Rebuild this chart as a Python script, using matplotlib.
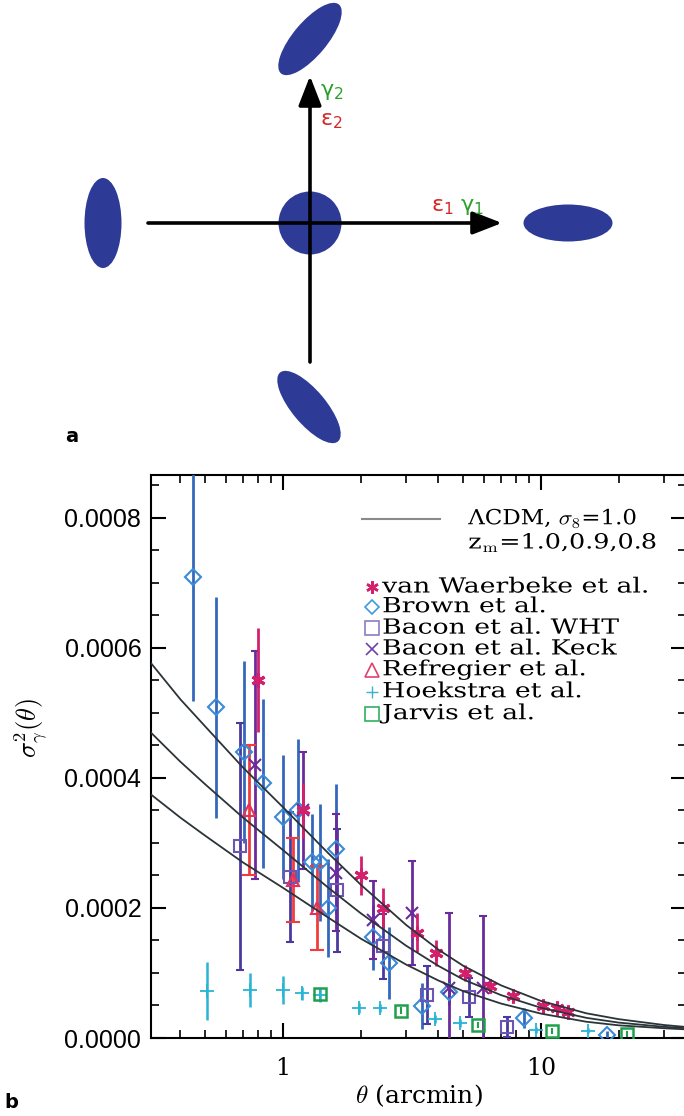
import numpy as np
import matplotlib.pyplot as plt
from matplotlib.patches import Ellipse
from matplotlib.ticker import MultipleLocator, NullFormatter, FixedLocator
from matplotlib.transforms import Affine2D
import matplotlib.patheffects as pe

plt.rcParams['mathtext.fontset'] = 'cm'

# ---- panel a: shear diagram (pixel layout) ----
blob_xy = [(310, 39), (103, 223), (310, 223), (568, 223), (309, 407)]
blob_w = [90, 37, 63, 89, 90]
blob_h = [34, 90, 63, 37, 34]
blob_ang = [-50, 0, 0, 0, 50]

# ---- panel b: shear variance vs angle (values in 1e-4) ----
model_theta = [0.3, 0.4, 0.5, 0.7, 1, 1.5, 2, 3, 4, 5, 7, 10, 15, 20, 30, 40]
model_zm10 = [5.82, 5.21, 4.79, 4.16, 3.55, 2.84, 2.36, 1.74, 1.36, 1.11, 0.81, 0.57, 0.38, 0.29, 0.20, 0.155]
model_zm09 = [4.74, 4.25, 3.90, 3.39, 2.89, 2.31, 1.92, 1.42, 1.11, 0.90, 0.66, 0.465, 0.31, 0.237, 0.172, 0.14]
model_zm08 = [3.78, 3.39, 3.11, 2.70, 2.31, 1.85, 1.53, 1.13, 0.885, 0.72, 0.53, 0.375, 0.25, 0.195, 0.15, 0.125]

vw_theta = [0.80, 1.20, 2.0, 2.44, 3.3, 3.92, 5.07, 6.35, 7.8, 10.2, 11.5, 12.7]
vw_var = [5.5, 3.5, 2.5, 2.0, 1.62, 1.31, 1.0, 0.8, 0.65, 0.49, 0.46, 0.40]
vw_err = [0.8, 0.43, 0.3, 0.3, 0.3, 0.2, 0.12, 0.1, 0.08, 0.06, 0.05, 0.05]

brown_theta = [0.448, 0.55, 0.706, 0.84, 1.0, 1.14, 1.30, 1.39, 1.49, 1.60, 2.23, 2.57, 3.45, 4.4, 8.6, 18.0]
brown_var = [7.09, 5.09, 4.40, 3.92, 3.40, 3.50, 2.70, 2.70, 2.00, 2.90, 1.55, 1.15, 0.49, 0.70, 0.31, 0.05]
brown_err = [1.9, 1.7, 1.4, 1.3, 0.95, 1.1, 0.75, 0.9, 0.75, 1.0, 0.5, 0.55, 0.35, 0.2, 0.15, 0.05]

wht_theta = [0.68, 1.06, 1.62, 2.44, 3.6, 5.26, 7.4]
wht_var = [2.95, 2.47, 2.27, 1.41, 0.66, 0.63, 0.17]
wht_err = [1.9, 1.0, 0.95, 0.5, 0.45, 0.3, 0.15]

keck_theta = [0.78, 1.2, 1.6, 2.23, 3.16, 4.4, 5.95]
keck_var = [4.2, 3.5, 2.54, 1.82, 1.92, 0.77, 0.77]
keck_err = [1.75, 0.9, 0.9, 0.6, 0.8, 1.15, 1.1]

ref_theta = [0.74, 1.09, 1.35]
ref_var = [3.5, 2.43, 2.0]
ref_err = [1.0, 0.65, 0.65]

hoek_theta = [0.507, 0.745, 1.0, 1.19, 1.39, 1.97, 2.37, 3.88, 4.85, 9.6, 15.2]
hoek_var = [0.72, 0.74, 0.74, 0.69, 0.66, 0.46, 0.46, 0.29, 0.23, 0.12, 0.11]
hoek_err = [0.45, 0.26, 0.22, 0.1, 0.1, 0.08, 0.06, 0.06, 0.06, 0.05, 0.04]

jarvis_theta = [1.39, 2.87, 5.7, 11.0, 21.5]
jarvis_var = [0.68, 0.42, 0.20, 0.11, 0.06]
jarvis_err = [0.07, 0.05, 0.05, 0.05, 0.04]

legend_labels = ['van Waerbeke et al.', 'Brown et al.', 'Bacon et al. WHT',
                 'Bacon et al. Keck', 'Refregier et al.', 'Hoekstra et al.', 'Jarvis et al.']


class HStretch(pe.AbstractPathEffect):
    """widen text glyphs horizontally about the text origin"""
    def __init__(self, sx):
        super().__init__()
        self.sx = sx

    def draw_path(self, renderer, gc, tpath, affine, rgbFace=None):
        renderer.draw_path(gc, tpath, Affine2D().scale(self.sx, 1.0) + affine, rgbFace)


fig = plt.figure(figsize=(6.84, 11.16), dpi=100)

# panel a
ax_a = fig.add_axes([0, 0, 1, 1])
ax_a.set_xlim(0, 684)
ax_a.set_ylim(1116, 0)
ax_a.axis('off')
for (cx, cy), w, h, a in zip(blob_xy, blob_w, blob_h, blob_ang):
    ax_a.add_patch(Ellipse((cx, cy), w, h, angle=a, color='#2e3b96', lw=0))
arr = dict(arrowstyle='-|>,head_length=0.9,head_width=0.35', lw=2.6, color='black',
           shrinkA=0, shrinkB=0, mutation_scale=20)
ax_a.annotate('', xy=(310, 76), xytext=(310, 362), arrowprops=arr)
ax_a.annotate('', xy=(502, 223), xytext=(148, 223), arrowprops=arr)
ax_a.text(320, 92, r'$\mathregular{\gamma_2}$', color='#2ca02c', fontsize=16, va='center')
ax_a.text(320, 121, r'$\mathregular{\epsilon_2}$', color='#d62728', fontsize=16, va='center')
ax_a.text(431, 207, r'$\mathregular{\epsilon_1}$', color='#d62728', fontsize=16, va='center')
ax_a.text(460, 207, r'$\mathregular{\gamma_1}$', color='#2ca02c', fontsize=16, va='center')
ax_a.text(72, 437, 'a', fontsize=14, fontweight='bold', va='center', ha='center')
ax_a.text(11, 1102, 'b', fontsize=14, fontweight='bold', va='center', ha='center')

# panel b
ax = fig.add_axes([151 / 684, 78 / 1116, 535 / 684, 563 / 1116])
ax.set_xscale('log')
ax.set_xlim(0.3078, 36.5)
ax.set_ylim(0, 8.66e-4)

s = 1e-4
for vals in (model_zm10, model_zm09, model_zm08):
    ax.plot(model_theta, np.array(vals) * s, color='#2b3438', lw=1.3, zorder=5)

ax.errorbar(brown_theta, np.array(brown_var) * s, yerr=np.array(brown_err) * s, fmt='D', ms=8,
            mfc='none', mec='#3a8ad6', mew=1.5, ecolor='#3568bd', elinewidth=2.0, zorder=3)
ax.errorbar(wht_theta, np.array(wht_var) * s, yerr=np.array(wht_err) * s, fmt='s', ms=9,
            mfc='none', mec='#6c55b5', mew=1.5, ecolor='#4a3aa0', elinewidth=2.0,
            capsize=3, capthick=1.2, zorder=3)
ax.errorbar(keck_theta, np.array(keck_var) * s, yerr=np.array(keck_err) * s, fmt='x', ms=8,
            mec='#6a2c9c', mew=1.5, ecolor='#6a2c9c', elinewidth=2.0,
            capsize=3, capthick=1.2, zorder=3)
ax.errorbar(ref_theta, np.array(ref_var) * s, yerr=np.array(ref_err) * s, fmt='^', ms=9,
            mfc='none', mec='#e3305f', mew=1.5, ecolor='#f03c3c', elinewidth=2.0,
            capsize=5, capthick=1.5, zorder=3)
ax.errorbar(vw_theta, np.array(vw_var) * s, yerr=np.array(vw_err) * s, fmt='none',
            ecolor='#d4206c', elinewidth=2.0, zorder=4)
ax.plot(vw_theta, np.array(vw_var) * s, ls='none', marker=(6, 2, 0), ms=10,
        mec='#d4206c', mew=2.2, zorder=4)
ax.errorbar(hoek_theta, np.array(hoek_var) * s, yerr=np.array(hoek_err) * s, fmt='+', ms=10,
            mec='#28b4d4', mew=1.3, ecolor='#28b4d4', elinewidth=1.8, zorder=3)
ax.errorbar(jarvis_theta, np.array(jarvis_var) * s, yerr=np.array(jarvis_err) * s, fmt='s', ms=8,
            mfc='none', mec='#1ea04c', mew=1.8, ecolor='#1ea04c', elinewidth=1.5, zorder=3)

# axes styling
for sp in ax.spines.values():
    sp.set_linewidth(1.5)
ax.xaxis.set_major_locator(FixedLocator([1, 10]))
ax.set_xticklabels(['1', '10'], fontfamily='DejaVu Serif', fontsize=17)
ax.xaxis.set_minor_formatter(NullFormatter())
ax.yaxis.set_major_locator(MultipleLocator(2e-4))
ax.yaxis.set_minor_locator(MultipleLocator(5e-5))
ax.set_yticks([0, 2e-4, 4e-4, 6e-4, 8e-4])
ax.set_yticklabels(['0.0000', '0.0002', '0.0004', '0.0006', '0.0008'],
                   fontfamily='Liberation Sans', fontsize=18)
ax.tick_params(which='both', direction='in', top=True, right=True)
ax.tick_params(which='major', length=11, width=1.5)
ax.tick_params(which='minor', length=6, width=1.2)
ax.tick_params(axis='x', which='major', pad=14)
ax.tick_params(axis='y', which='major', pad=7)

ax.set_xlabel(r'$\theta$ (arcmin)', fontfamily='DejaVu Serif', fontsize=18)
ax.xaxis.set_label_coords(0.5, -0.078)
ax.set_ylabel(r'$\sigma^2_\gamma(\theta)$', fontsize=19)
ax.yaxis.set_label_coords(-0.19, 0.55)

# legend
stretch = [HStretch(1.28)]
ax.plot([0.394, 0.540], [0.922, 0.922], transform=ax.transAxes, color='#8a8a8a', lw=1.5)
ax.text(0.593, 0.922, r'ΛCDM, $\sigma_8$=1.0', transform=ax.transAxes, fontsize=15,
        fontfamily='DejaVu Serif', va='center', path_effects=[HStretch(1.1)])
ax.text(0.593, 0.879, r'z$_{\rm m}$=1.0,0.9,0.8', transform=ax.transAxes, fontsize=15,
        fontfamily='DejaVu Serif', va='center', path_effects=[HStretch(1.22)])

key_style = [dict(marker=(6, 2, 0), mec='#d4206c', mew=1.8, ms=9),
             dict(marker='D', mfc='none', mec='#3a9ae0', mew=1.2, ms=7),
             dict(marker='s', mfc='none', mec='#8c7cc4', mew=1.2, ms=10),
             dict(marker='x', mec='#7040a8', mew=1.2, ms=8),
             dict(marker='^', mfc='none', mec='#e0406e', mew=1.2, ms=10),
             dict(marker='+', mec='#3ab0d4', mew=1.0, ms=9),
             dict(marker='s', mfc='none', mec='#30b060', mew=1.2, ms=10)]
rows = [0.801, 0.766, 0.728, 0.691, 0.654, 0.615, 0.576]
for yy, lab, kst in zip(rows, legend_labels, key_style):
    ax.plot([0.413], [yy], transform=ax.transAxes, ls='none', **kst)
    ax.text(0.432, yy, lab, transform=ax.transAxes, fontsize=15, fontfamily='DejaVu Serif',
            va='center', path_effects=stretch)

fig.savefig('out.png', dpi=100)
